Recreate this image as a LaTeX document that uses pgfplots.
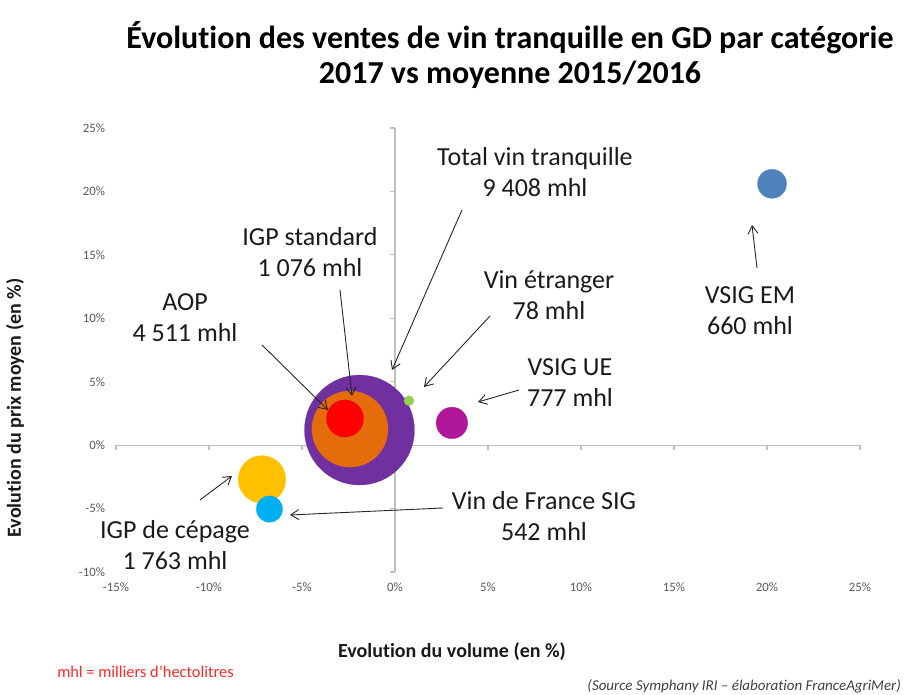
\documentclass[border=0pt]{standalone}
\usepackage{fontspec}
\setmainfont{Carlito}[Ligatures=NoCommon]
\usepackage{pgfplots}
\pgfplotsset{compat=1.18}
\usetikzlibrary{arrows.meta}
\definecolor{cPurple}{HTML}{7030A0}
\definecolor{cOrange}{HTML}{E46C0A}
\definecolor{cRed}{HTML}{FF0000}
\definecolor{cGreen}{HTML}{92D050}
\definecolor{cMagenta}{HTML}{B0179A}
\definecolor{cYellow}{HTML}{FFC000}
\definecolor{cCyan}{HTML}{00B0F0}
\definecolor{cBlue}{HTML}{4F81BD}
\definecolor{axgray}{HTML}{BFBFBF}
\definecolor{tickgray}{HTML}{595959}
\definecolor{txt}{HTML}{1A1A1A}
\pgfplotsset{
  bubble/.style={only marks, mark=*, color=#1, scatter,
    mark options={line width=0.1pt},
    scatter/use mapped color={draw=#1, fill=#1},
    visualization depends on={0.2835*sqrt(\thisrow{v}) \as \rad},
    scatter/@pre marker code/.append style={/tikz/mark size=\rad}}
}
\begin{document}
\begin{tikzpicture}
\useasboundingbox (0,0) rectangle (456pt,347.5pt);
\begin{axis}[at={(58pt,61.5pt)}, anchor=south west, scale only axis,
  width=372pt, height=222pt,
  xmin=-15, xmax=25, ymin=-10, ymax=25,
  xtick={-15,-10,...,25}, ytick={-10,-5,...,25},
  axis line style={draw=none}, major tick length=0pt,
  tick label style={font=\fontsize{6.4}{7}\selectfont, text=tickgray},
  xticklabel={\pgfmathparse{int(\tick)}\pgfmathresult\%},
  yticklabel={\pgfmathparse{int(\tick)}\pgfmathresult\%},
  xticklabel style={yshift=-2pt},
  yticklabel style={xshift=-2pt},
  clip=false]
\draw[axgray, line width=0.6pt] (axis cs:-15,0) -- (axis cs:25,0);
\draw[axgray, line width=0.6pt] (axis cs:0,-10) -- (axis cs:0,25);
\pgfplotsinvokeforeach{-15,-10,...,25}{\draw[axgray, line width=0.6pt] (axis cs:#1,0) -- ++(0pt,-2.5pt);}
\pgfplotsinvokeforeach{-10,-5,...,25}{\draw[axgray, line width=0.6pt] (axis cs:0,#1) -- ++(-2.5pt,0pt);}
% Total vin tranquille
\addplot[bubble=cPurple] table[row sep=\\] {x y v\\ -1.91 1.19 9408\\};
% AOP
\addplot[bubble=cOrange] table[row sep=\\] {x y v\\ -2.42 1.27 4511\\};
% IGP standard
\addplot[bubble=cRed] table[row sep=\\] {x y v\\ -2.69 2.10 1076\\};
% Vin etranger
\addplot[bubble=cGreen] table[row sep=\\] {x y v\\ 0.75 3.50 78\\};
% VSIG UE
\addplot[bubble=cMagenta] table[row sep=\\] {x y v\\ 3.06 1.75 777\\};
% IGP de cepage
\addplot[bubble=cYellow] table[row sep=\\] {x y v\\ -7.15 -2.70 1763\\};
% Vin de France SIG
\addplot[bubble=cCyan] table[row sep=\\] {x y v\\ -6.75 -5.04 542\\};
% VSIG EM
\addplot[bubble=cBlue] table[row sep=\\] {x y v\\ 20.27 20.60 660\\};
\end{axis}
\begin{scope}[x=0.5pt, y=-0.5pt, yshift=347.5pt]
\node[align=center, font=\bfseries\fontsize{16}{17.5}\selectfont] at (510,55) {Évolution des ventes de vin tranquille en GD par catégorie\\2017 vs moyenne 2015/2016};
\tikzset{ann/.style={align=center, text=txt, font=\fontsize{13}{15.5}\selectfont},
  arr/.style={-{Straight Barb[length=4pt,width=5pt]}, line width=0.45pt, draw=black!85}}
\node[ann] at (535,172) {Total vin tranquille\\9 408 mhl};
\node[ann] at (310,252) {IGP standard\\1 076 mhl};
\node[ann] at (185,318) {AOP\\4 511 mhl};
\node[ann] at (549,295) {Vin étranger\\78 mhl};
\node[ann] at (570,383) {VSIG UE\\777 mhl};
\node[ann] at (750,311) {VSIG EM\\660 mhl};
\node[ann] at (175,545) {IGP de cépage\\1 763 mhl};
\node[ann] at (544,516) {Vin de France SIG\\542 mhl};
\draw[arr] (462,210) -- (392,370);
\draw[arr] (340,290) -- (352,396);
\draw[arr] (262,345) -- (328,410);
\draw[arr] (490,316) -- (424,387);
\draw[arr] (519,390) -- (478,402);
\draw[arr] (757,268) -- (752,225);
\draw[arr] (200,500) -- (232,476);
\draw[arr] (443,508) -- (290,515);
\node[font=\bfseries\fontsize{10}{11}\selectfont, text=txt] at (452,652) {Evolution du volume (en \%)};
\node[font=\bfseries\fontsize{10}{11}\selectfont, text=txt, rotate=90] at (15,408) {Evolution du prix moyen (en \%)};
\node[font=\fontsize{8.2}{9}\selectfont, text=red!85] at (145.5,672) {mhl = milliers d'hectolitres};
\node[anchor=east, font=\itshape\fontsize{7.5}{9}\selectfont, text=black!75] at (908,686) {(Source Symphany IRI – élaboration FranceAgriMer)};
\end{scope}
\end{tikzpicture}
\end{document}
